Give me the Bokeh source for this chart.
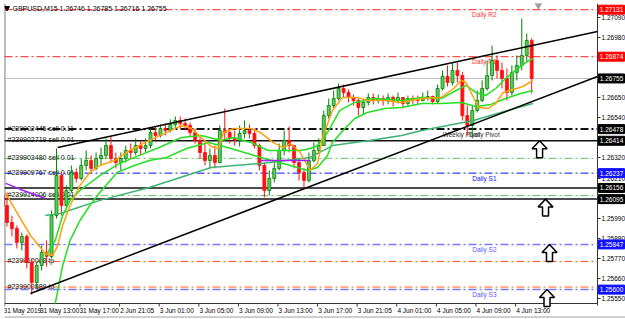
from bokeh.plotting import figure
from bokeh.models import FixedTicker, Range1d, LinearAxis, PrintfTickFormatter
from bokeh.embed import file_html
from bokeh.resources import INLINE
from bokeh.core.properties import value

# ---------------- data ----------------
symbol_text = "GBPUSD,M15  1.26746 1.26785 1.26716 1.26755"
bars_per_candle = 2
first_open = 1.26115
closes = [
    1.26060, 1.25967, 1.25934, 1.25858, 1.25891, 1.25748, 1.25639, 1.25732, 1.25803, 1.25781,
    1.26005, 1.26224, 1.26060, 1.26142, 1.26241, 1.26208, 1.26279, 1.26306, 1.26263, 1.26317,
    1.26334, 1.26388, 1.26317, 1.26295, 1.26317, 1.26361, 1.26350, 1.26388, 1.26372, 1.26388,
    1.26459, 1.26443, 1.26481, 1.26470, 1.26503, 1.26525, 1.26509, 1.26498, 1.26459, 1.26416,
    1.26350, 1.26306, 1.26334, 1.26295, 1.26470, 1.26459, 1.26427, 1.26416, 1.26454, 1.26470,
    1.26454, 1.26388, 1.26279, 1.26142, 1.26208, 1.26263, 1.26361, 1.26416, 1.26388, 1.26295,
    1.26241, 1.26197, 1.26306, 1.26361, 1.26388, 1.26552, 1.26607, 1.26645, 1.26700, 1.26678,
    1.26651, 1.26635, 1.26596, 1.26624, 1.26651, 1.26635, 1.26645, 1.26635, 1.26651, 1.26635,
    1.26651, 1.26618, 1.26645, 1.26640, 1.26635, 1.26651, 1.26656, 1.26629, 1.26700, 1.26766,
    1.26733, 1.26799, 1.26771, 1.26552, 1.26498, 1.26580, 1.26635, 1.26700, 1.26771, 1.26853,
    1.26799, 1.26755, 1.26678, 1.26788, 1.26826, 1.26881, 1.26963, 1.26755]
highs = [
    1.26142, 1.26131, 1.26005, 1.25951, 1.25912, 1.25902, 1.25770, 1.25748, 1.25841, 1.25869,
    1.26033, 1.26372, 1.26241, 1.26170, 1.26279, 1.26263, 1.26317, 1.26361, 1.26334, 1.26350,
    1.26377, 1.26427, 1.26438, 1.26350, 1.26350, 1.26388, 1.26399, 1.26427, 1.26416, 1.26427,
    1.26481, 1.26492, 1.26503, 1.26509, 1.26531, 1.26547, 1.26547, 1.26536, 1.26514, 1.26481,
    1.26432, 1.26405, 1.26372, 1.26388, 1.26498, 1.26591, 1.26481, 1.26470, 1.26498, 1.26525,
    1.26503, 1.26481, 1.26399, 1.26295, 1.26252, 1.26306, 1.26399, 1.26470, 1.26492, 1.26388,
    1.26317, 1.26263, 1.26350, 1.26405, 1.26427, 1.26580, 1.26645, 1.26689, 1.26728, 1.26722,
    1.26695, 1.26667, 1.26645, 1.26645, 1.26673, 1.26673, 1.26667, 1.26662, 1.26673, 1.26662,
    1.26678, 1.26651, 1.26662, 1.26662, 1.26662, 1.26678, 1.26689, 1.26662, 1.26722, 1.26799,
    1.26826, 1.26842, 1.26842, 1.26790, 1.26607, 1.26607, 1.26689, 1.26744, 1.26853, 1.26935,
    1.26881, 1.26842, 1.26810, 1.26826, 1.26881, 1.27083, 1.27001, 1.26974]
lows = [
    1.26033, 1.25945, 1.25891, 1.25825, 1.25814, 1.25716, 1.25573, 1.25606, 1.25705, 1.25726,
    1.25770, 1.25989, 1.26005, 1.26044, 1.26131, 1.26186, 1.26197, 1.26252, 1.26241, 1.26252,
    1.26279, 1.26317, 1.26295, 1.26263, 1.26252, 1.26295, 1.26317, 1.26334, 1.26334, 1.26350,
    1.26372, 1.26416, 1.26432, 1.26443, 1.26459, 1.26481, 1.26481, 1.26470, 1.26438, 1.26399,
    1.26317, 1.26279, 1.26263, 1.26263, 1.26290, 1.26416, 1.26399, 1.26388, 1.26383, 1.26427,
    1.26427, 1.26372, 1.26252, 1.26104, 1.26115, 1.26186, 1.26252, 1.26334, 1.26350, 1.26263,
    1.26197, 1.26153, 1.26186, 1.26295, 1.26345, 1.26388, 1.26536, 1.26591, 1.26635, 1.26651,
    1.26624, 1.26607, 1.26552, 1.26563, 1.26607, 1.26613, 1.26618, 1.26607, 1.26613, 1.26602,
    1.26618, 1.26591, 1.26602, 1.26613, 1.26618, 1.26629, 1.26635, 1.26613, 1.26620, 1.26689,
    1.26711, 1.26717, 1.26733, 1.26525, 1.26443, 1.26427, 1.26569, 1.26625, 1.26689, 1.26744,
    1.26755, 1.26700, 1.26635, 1.26662, 1.26744, 1.26799, 1.26842, 1.26673]

# moving averages (bar index, price)
ma_orange_bars = [2, 6, 12, 18, 21, 23, 25, 28, 32, 36, 40, 46, 52, 60, 67, 73, 77, 81, 85, 88,
                  90, 94, 101, 105, 110, 114, 117, 121, 125, 128, 130, 134, 138, 144, 148, 155,
                  162, 170, 178, 183, 186, 188, 191, 193, 197, 200, 203, 207, 211, 215]
ma_orange = [1.26126, 1.26033, 1.25896, 1.25798, 1.25787, 1.25841, 1.25951, 1.26060, 1.26170,
             1.26241, 1.26279, 1.26306, 1.26361, 1.26416, 1.26459, 1.26498, 1.26481, 1.26432,
             1.26383, 1.26372, 1.26459, 1.26481, 1.26481, 1.26459, 1.26405, 1.26377, 1.26399,
             1.26350, 1.26252, 1.26290, 1.26432, 1.26580, 1.26651, 1.26651, 1.26635, 1.26635,
             1.26624, 1.26645, 1.26651, 1.26700, 1.26744, 1.26733, 1.26651, 1.26596, 1.26591,
             1.26618, 1.26678, 1.26695, 1.26711, 1.26744]
ma_lime_fast_bars = [18, 22, 25, 28, 32, 40, 48, 56, 64, 73, 81, 89, 94, 101, 108, 114, 121, 125,
                     128, 132, 137, 143, 151, 162, 170, 178, 184, 188, 192, 196, 200, 204, 208,
                     212, 215]
ma_lime_fast = [1.25781, 1.25869, 1.26005, 1.26088, 1.26142, 1.26224, 1.26290, 1.26334, 1.26377,
                1.26432, 1.26443, 1.26416, 1.26432, 1.26405, 1.26361, 1.26361, 1.26361, 1.26372,
                1.26388, 1.26459, 1.26580, 1.26624, 1.26645, 1.26635, 1.26651, 1.26645, 1.26689,
                1.26717, 1.26678, 1.26662, 1.26700, 1.26755, 1.26799, 1.26842, 1.26864]
ma_lime_slow_bars = [22, 25, 28, 32, 36, 40, 47, 54, 60, 67, 75, 84, 93, 105, 117, 124, 128, 132,
                     134, 139, 143, 148, 155, 162, 170, 178, 186, 192, 198, 204, 210, 215]
ma_lime_slow = [1.25524, 1.25732, 1.25869, 1.25978, 1.26060, 1.26131, 1.26241, 1.26279, 1.26306,
                1.26323, 1.26372, 1.26405, 1.26372, 1.26323, 1.26279, 1.26252, 1.26268, 1.26334,
                1.26405, 1.26481, 1.26536, 1.26569, 1.26591, 1.26596, 1.26618, 1.26618, 1.26624,
                1.26602, 1.26613, 1.26645, 1.26673, 1.26689]
ma_sea_bars = [18, 24, 40, 60, 85, 105, 125, 134, 149, 162, 170, 191, 202, 215]
ma_sea = [1.26005, 1.26016, 1.26088, 1.26159, 1.26268, 1.26290, 1.26323, 1.26388, 1.26416,
          1.26443, 1.26470, 1.26525, 1.26569, 1.26618]
ma_purple_bars = [2, 8, 18]
ma_purple = [1.26181, 1.26148, 1.26098]
ma_purple2_bars = [105, 125]
ma_purple2 = [1.26306, 1.26306]

# trend lines (bar index, price) - two anchors each, drawn as rays
trend_upper_bars = [23, 200]
trend_upper = [1.26377, 1.26892]
trend_lower_bars = [12, 200]
trend_lower = [1.25579, 1.26553]

# horizontal levels
daily_r2, daily_r1 = 1.27131, 1.26874
bid_price = 1.26755
pivot_level = 1.26478
black_levels = [1.26414, 1.26156, 1.26095]
green_levels = [1.26318, 1.26115]
daily_s1, daily_s2, daily_s3 = 1.26237, 1.25847, 1.25600
tp_levels = [1.25754, 1.25614]

order_label_texts = ["#239902445 sell 0.11", "#239902719 sell 0.01", "#239903480 sell 0.01",
                     "#239909767 sell 0.01", "#239914006 sell 0.01", "#239910008 tp",
                     "#239900889 tp"]
order_label_prices = [1.26478, 1.26414, 1.26318, 1.26237, 1.26115, 1.25754, 1.25614]

arrow_bars = [217.7, 220.1, 221.7, 220.7]
arrow_prices = [1.26414, 1.26095, 1.25847, 1.25600]

price_ticks = [1.27090, 1.26980, 1.26650, 1.26540, 1.26320, 1.26210, 1.25990, 1.25880,
               1.25770, 1.25660, 1.25550]
time_tick_bars = [1.6, 16, 32, 48, 64, 80, 96, 112, 128, 144, 160, 176, 192, 208]
time_tick_labels = ["31 May 2019", "31 May 13:00", "31 May 17:00", "2 Jun 21:05", "3 Jun 01:00",
                    "3 Jun 05:00", "3 Jun 09:00", "3 Jun 13:00", "3 Jun 17:00", "3 Jun 21:05",
                    "4 Jun 01:00", "4 Jun 05:00", "4 Jun 09:00", "4 Jun 13:00"]

# ---------------- figure ----------------
X0, X1 = 1.5, 241.1          # chart area (price scale sits right of X1)
Y0, Y1 = 1.25524, 1.27165    # chart area (time scale sits below Y0)
CHART_W, CHART_H = 593, 300
FRAME_W, FRAME_H = 621, 316
xpp = (X1 - X0) / CHART_W
ypp = (Y1 - Y0) / CHART_H
XE = X0 + FRAME_W * xpp
YB = Y1 - FRAME_H * ypp
FONT = "Liberation Sans"

p = figure(width=625, height=319, x_range=Range1d(X0, XE), y_range=Range1d(YB, Y1),
           output_backend="svg", toolbar_location=None, y_axis_location=None,
           x_axis_location=None,
           min_border_left=4, min_border_right=0, min_border_top=3, min_border_bottom=0)
p.grid.visible = False
p.outline_line_color = None
p.background_fill_color = "white"
p.border_fill_color = "white"

# right price scale, fixed at the chart's right edge
ya = LinearAxis(fixed_location=X1, ticker=FixedTicker(ticks=price_ticks),
                formatter=PrintfTickFormatter(format="%.5f"))
ya.major_label_text_font_size = "6.5px"
ya.major_label_text_font = FONT
ya.major_label_text_color = "black"
ya.major_tick_out = 3
ya.major_tick_in = 0
ya.major_tick_line_color = "#333333"
ya.minor_tick_line_color = None
ya.major_label_standoff = 1
ya.axis_line_color = None
p.add_layout(ya, "right")

# time scale, fixed at the chart's bottom edge; labels start at each tick
CHAR_PX = 3.2
label_centers = [t + len(l) * CHAR_PX / 2 * xpp for t, l in zip(time_tick_bars, time_tick_labels)]
xb = LinearAxis(fixed_location=Y0, ticker=FixedTicker(ticks=label_centers),
                major_label_overrides={c: l for c, l in zip(label_centers, time_tick_labels)})
xb.major_label_text_font_size = "6.5px"
xb.major_label_text_font = FONT
xb.major_label_text_color = "black"
xb.major_tick_line_color = None
xb.major_tick_out = 0
xb.major_tick_in = 0
xb.minor_tick_line_color = None
xb.minor_tick_out = 0
xb.axis_line_color = None
xb.major_label_standoff = 3
p.add_layout(xb, "below")

# time tick marks
p.segment(x0=time_tick_bars, y0=[Y0] * len(time_tick_bars), x1=time_tick_bars,
          y1=[Y0 - 3 * ypp] * len(time_tick_bars), line_color="#333333", line_width=1)

# chart-area borders and bottom tab strip line
p.segment(x0=[X0, X0 + 0.3 * xpp, X1], y0=[Y0, Y0, Y0 - 2 * ypp],
          x1=[X1, X0 + 0.3 * xpp, X1], y1=[Y0, Y1, Y1],
          line_color="#333333", line_width=1)
p.segment(x0=[X0 - 4 * xpp], y0=[Y0 - 13.5 * ypp], x1=[XE], y1=[Y0 - 13.5 * ypp],
          line_color="#a0a0a0", line_width=1)

DASHDOT = "8 3 2 3"

def hline(v, color, dash="solid", w=1):
    p.segment(x0=[X0], y0=[v], x1=[X1], y1=[v], line_color=color, line_dash=dash, line_width=w)

hline(daily_r2, "#ff2020", DASHDOT)
hline(daily_r1, "#ff2020", DASHDOT)
hline(bid_price, "#c0c0c0")
hline(pivot_level, "#111111", DASHDOT, 2)
for v in black_levels:
    hline(v, "#111111", "solid", 1.5)
for v in green_levels:
    hline(v, "#66c266", DASHDOT)
hline(daily_s1, "#1010ff", DASHDOT)
hline(daily_s2, "#7878ff", DASHDOT, 1.5)
hline(daily_s3, "#7878ff", DASHDOT, 1.5)
for v in tp_levels:
    hline(v, "#ff5a1e", DASHDOT)

# texts in the chart (behind candles)
lx = X0 + 3 * xpp
p.text(x=[lx] * len(order_label_texts), y=[v + 1 * ypp for v in order_label_prices],
       text=order_label_texts, text_font=value(FONT), text_font_size="7px",
       text_color="#111111", text_align="left", text_baseline="alphabetic")

cx = 195.4
daily_names = ["Daily R2", "Daily R1", "Daily S1", "Daily S2", "Daily S3"]
daily_vals = [daily_r2, daily_r1, daily_s1, daily_s2, daily_s3]
daily_cols = ["#ff3030", "#ff3030", "#1010ff", "#5a5aff", "#5a5aff"]
p.text(x=[cx] * 5, y=[v - 1.5 * ypp for v in daily_vals], text=daily_names,
       text_font=value(FONT), text_font_size="6.5px", text_color=daily_cols,
       text_align="center", text_baseline="top")
p.text(x=[186.1, 195.4], y=[pivot_level - 2 * ypp] * 2, text=["Weekly Pivot", "Daily Pivot"],
       text_font=value(FONT), text_font_size="6.5px", text_color="#333333",
       text_align="center", text_baseline="top")

# candles
xs = [bars_per_candle * k + 0.5 for k in range(len(closes))]
opens = [first_open] + closes[:-1]
up = [c >= o for o, c in zip(opens, closes)]
for flag, wick, body, edge in [(True, "#008000", "#5ccc5c", "#008000"),
                               (False, "#ff1010", "#ff1010", "#ff1010")]:
    idx = [i for i in range(len(closes)) if up[i] == flag]
    p.segment(x0=[xs[i] for i in idx], y0=[highs[i] for i in idx],
              x1=[xs[i] for i in idx], y1=[lows[i] for i in idx], line_color=wick, line_width=1)
    p.vbar(x=[xs[i] for i in idx], width=1.2,
           top=[max(opens[i], closes[i]) for i in idx],
           bottom=[min(opens[i], closes[i]) for i in idx],
           fill_color=body, line_color=edge, line_width=0.8)

# moving averages
p.line(ma_sea_bars, ma_sea, line_color="#3cb371", line_width=1.5)
p.line(ma_lime_slow_bars, ma_lime_slow, line_color="#22e022", line_width=1.5)
p.line(ma_lime_fast_bars, ma_lime_fast, line_color="#22e022", line_width=1.5)
p.line(ma_orange_bars, ma_orange, line_color="#ffa010", line_width=1.5)
p.line(ma_purple_bars, ma_purple, line_color="#a020f0", line_width=1.5)
p.line(ma_purple2_bars, ma_purple2, line_color="#a020f0", line_width=1.5)

# trend rays
for bx, py in [(trend_upper_bars, trend_upper), (trend_lower_bars, trend_lower)]:
    slope = (py[1] - py[0]) / (bx[1] - bx[0])
    p.line([bx[0], X1], [py[0], py[0] + slope * (X1 - bx[0])], line_color="black", line_width=1.5)

# hollow up arrows
shape = [(0, 0), (7.5, 8), (3, 8), (3, 17), (-3, 17), (-3, 8), (-7.5, 8)]
p.patches(xs=[[b + dx * xpp for dx, dy in shape] for b in arrow_bars],
          ys=[[v - dy * ypp for dx, dy in shape] for v in arrow_prices],
          fill_color="white", line_color="black", line_width=1.5)

# small markers and header
p.scatter(x=[217.2], y=[Y1 - 1.5 * ypp], marker="inverted_triangle", size=7,
          fill_color="#a0a0a0", line_color="#a0a0a0")
p.scatter(x=[X0 + 2.5 * xpp], y=[Y1 - 4.5 * ypp], marker="inverted_triangle", size=5,
          fill_color="black", line_color="black")
p.text(x=[X0 + 8 * xpp], y=[Y1 - 4.5 * ypp], text=[symbol_text], text_font=value(FONT),
       text_font_size="7px", text_color="black", text_align="left", text_baseline="middle")

# price boxes on the right scale (drawn above the scale labels)
box_vals = [daily_r2, daily_r1, bid_price, pivot_level, black_levels[0], daily_s1,
            black_levels[1], black_levels[2], daily_s2, daily_s3]
box_cols = ["#ff0000", "#ff0000", "black", "black", "black", "#1010ff",
            "black", "black", "#1010ff", "#1010ff"]
bx_center = X1 + 14 * xpp
p.rect(x=[bx_center] * len(box_vals), y=box_vals, width=26, height=9,
       width_units="screen", height_units="screen", fill_color=box_cols, line_color=box_cols,
       level="overlay")
p.text(x=[bx_center] * len(box_vals), y=box_vals, text=[f"{v:.5f}" for v in box_vals],
       text_font=value(FONT), text_font_size="6.5px", text_color="white",
       text_align="center", text_baseline="middle", level="overlay")

open("out.html", "w").write(file_html(p, INLINE))
